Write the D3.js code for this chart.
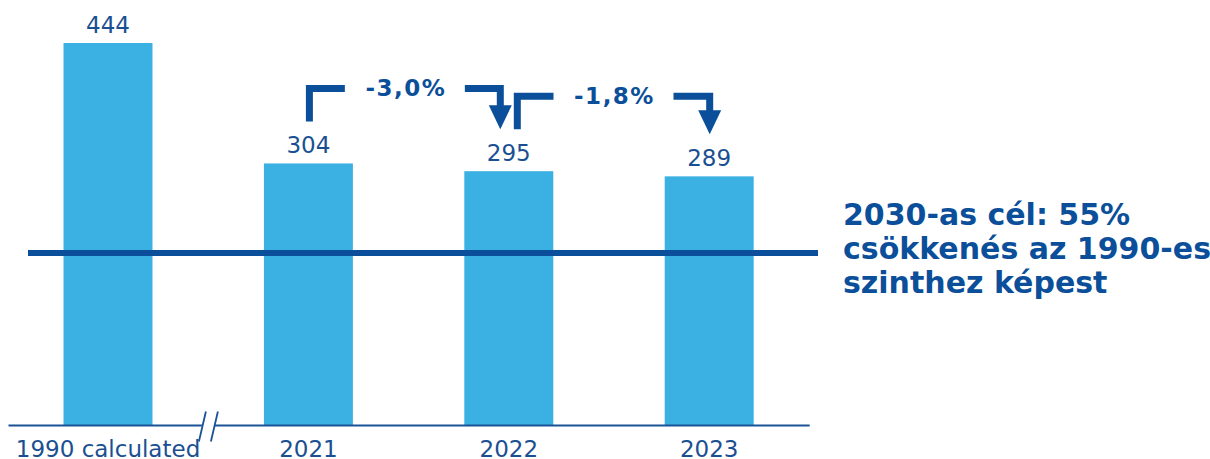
<!DOCTYPE html>
<html><head><meta charset="utf-8">
<script src="https://cdn.jsdelivr.net/npm/d3@7"></script>
<style>
html,body{margin:0;padding:0;background:#fff;}
svg{display:block;font-family:"DejaVu Sans",Verdana,sans-serif;}
</style></head>
<body>
<svg id="c" width="1210" height="459"></svg>
<script>
const categories = ["1990 calculated", "2021", "2022", "2023"];
const values = [444, 304, 295, 289];
const changes = [
  {from: "2021", to: "2022", label: "-3,0%"},
  {from: "2022", to: "2023", label: "-1,8%"}
];
const targetReduction = 0.55;
const targetLabel = ["2030-as cél: 55%", "csökkenés az 1990-es", "szinthez képest"];

const barColor = "#3bb1e3";
const dark = "#0b4f9a";
const labelColor = "#1a5092";

const svg = d3.select("#c");
const x = d3.scaleBand().domain(categories).range([8, 809.2]).paddingInner(0.556).paddingOuter(0.277);
const y = d3.scaleLinear().domain([0, 444]).range([425, 43]);
const cx = c => x(c) + x.bandwidth() / 2;
const valOf = c => values[categories.indexOf(c)];

// bars
svg.append("g").selectAll("rect").data(categories).join("rect")
  .attr("x", d => x(d)).attr("width", x.bandwidth())
  .attr("y", (d, i) => y(values[i])).attr("height", (d, i) => y(0) - y(values[i]))
  .attr("fill", barColor);

// value labels
svg.append("g").selectAll("text").data(categories).join("text")
  .attr("x", d => cx(d)).attr("y", (d, i) => y(values[i]) - 10.5)
  .attr("text-anchor", "middle").attr("font-size", 23).attr("fill", labelColor)
  .text((d, i) => values[i]);

// axis
const axis = svg.append("g").attr("transform", `translate(0,${y(0)})`)
  .call(d3.axisBottom(x).tickSize(0).tickSizeOuter(0));
axis.select(".domain").attr("stroke", "#1a5296").attr("stroke-width", 1.8);
axis.selectAll("text").attr("y", 31.5).attr("dy", 0).attr("font-size", 23)
  .attr("font-family", "DejaVu Sans, Verdana, sans-serif").attr("fill", labelColor);

// axis break
const bx = (cx(categories[0]) + cx(categories[1])) / 2 + 0.2;
svg.append("rect").attr("x", bx - 6.5).attr("y", y(0) - 3).attr("width", 12.5).attr("height", 6).attr("fill", "#fff");
[-6, 6].forEach(o => {
  svg.append("line")
    .attr("x1", bx + o + 3.5).attr("y1", y(0) - 13.5)
    .attr("x2", bx + o - 3.5).attr("y2", y(0) + 16.5)
    .attr("stroke", "#1a5296").attr("stroke-width", 1.8);
});

// target line
const tVal = values[0] * (1 - targetReduction);
svg.append("line").attr("x1", 28).attr("x2", 818).attr("y1", y(tVal)).attr("y2", y(tVal))
  .attr("stroke", dark).attr("stroke-width", 6);

// target text
const tt = svg.append("text").attr("x", 843).attr("font-size", 30).attr("font-weight", "bold").attr("fill", dark);
targetLabel.forEach((l, i) => tt.append("tspan").attr("x", 843).attr("y", 224.5 + i * 34).text(l));

// change arrows
const offs = [[1, -8.5], [8.5, 0.5]];
changes.forEach((ch, i) => {
  const x1 = cx(ch.from) + offs[i][0];
  const x2 = cx(ch.to) + offs[i][1];
  const yS = y(valOf(ch.from)) - 42;
  const yH = y(valOf(ch.from)) - 75;
  const yTip = y(valOf(ch.to)) - 42;
  const yHead = yTip - 24;
  const mid = (x1 + x2) / 2;
  const g = svg.append("g");
  g.append("path").attr("d", `M${x1},${yS}V${yH}H${mid - 60}`)
    .attr("fill", "none").attr("stroke", dark).attr("stroke-width", 7).attr("stroke-linejoin", "miter");
  g.append("path").attr("d", `M${mid + 60},${yH}H${x2}V${yHead + 1}`)
    .attr("fill", "none").attr("stroke", dark).attr("stroke-width", 7).attr("stroke-linejoin", "miter");
  g.append("path").attr("d", `M${x2 - 11.5},${yHead}L${x2 + 11.5},${yHead}L${x2},${yTip}Z`).attr("fill", dark);
  g.append("text").attr("x", mid + 1).attr("y", yH + 8).attr("text-anchor", "middle")
    .attr("font-size", 23).attr("font-weight", "bold").attr("letter-spacing", 1.5).attr("fill", dark)
    .text(ch.label);
});
</script>
</body></html>
